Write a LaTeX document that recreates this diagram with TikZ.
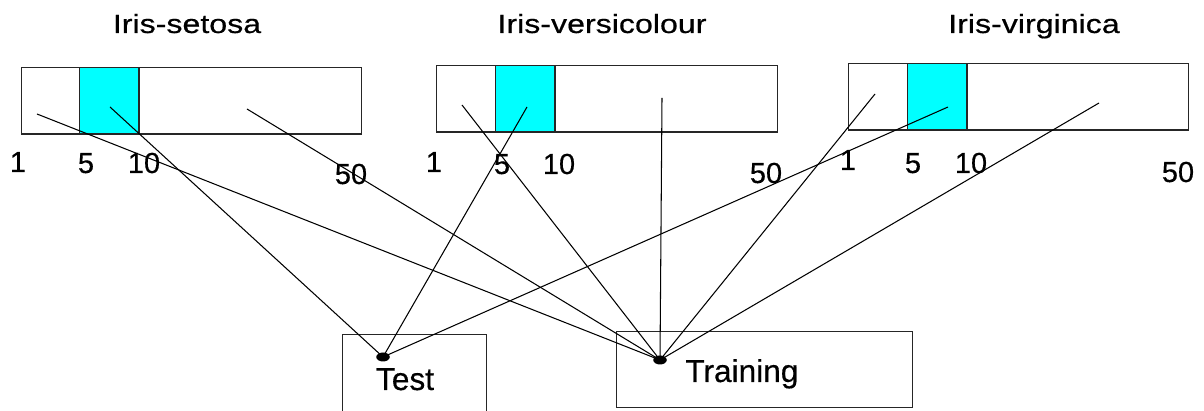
\documentclass[tikz,border=0pt]{standalone}
\usepackage{fontspec}
\setmainfont[FakeBold=0.4]{Liberation Sans}
\newfontfamily\titlefont[FakeStretch=1.22, FakeBold=0.5]{Liberation Sans}
\usepackage{xcolor}
\usepackage{tikz}
\usetikzlibrary{shapes.geometric}
\definecolor{irisaqua}{HTML}{00FFFF}
\tikzset{
  band/.style={draw=black!85, line width=0.8pt, fill=white, anchor=north west, inner sep=0pt, minimum height=1.33cm},
  cell/.style={draw=black!85, line width=0.8pt, fill=irisaqua, anchor=north west, inner sep=0pt, minimum height=1.33cm, minimum width=1.19cm},
  setbox/.style={draw=black!85, line width=0.8pt, anchor=north west, inner sep=0pt},
  title/.style={anchor=base, inner sep=0pt, font=\titlefont\fontsize{15}{17}\selectfont},
  digit/.style={anchor=base, inner sep=0pt, font=\fontsize{16.5}{18}\selectfont},
  setlabel/.style={anchor=base, inner sep=0pt, font=\fontsize{18}{20}\selectfont},
  dot/.style={ellipse, fill=black, inner sep=0pt, minimum width=0.27cm, minimum height=0.18cm},
  link/.style={line width=0.6pt, draw=black}
}
\begin{document}
\begin{tikzpicture}[x=0.02cm, y=-0.02cm]
  \useasboundingbox (0,0) rectangle (1204,411);
  \clip (0,0) rectangle (1204,411);

  % titles
  \node[title] (tsetosa) at (187,33) {Iris-setosa};
  \node[title] (tversi) at (602,33) {Iris-versicolour};
  \node[title] (tvirgi) at (1034,33) {Iris-virginica};

  % bands with the cyan cell
  \node[band, minimum width=6.8cm] (setosa) at (21,67) {};
  \node[cell] (setosa5) at (79,67) {};
  \node[band, minimum width=6.82cm] (versi) at (436,65) {};
  \node[cell] (versi5) at (495,65) {};
  \node[band, minimum width=6.8cm] (virgi) at (848,63) {};
  \node[cell] (virgi5) at (907,63) {};

  % indices under the bands
  \node[digit] (s1) at (18,172) {1};
  \node[digit] (s5) at (86,173) {5};
  \node[digit] (s10) at (144,173) {10};
  \node[digit] (s50) at (351,184) {50};
  \node[digit] (v1) at (434,172) {1};
  \node[digit] (v5) at (502,174) {5};
  \node[digit] (v10) at (559,174) {10};
  \node[digit] (v50) at (766,183) {50};
  \node[digit] (g1) at (848,170) {1};
  \node[digit] (g5) at (913,173) {5};
  \node[digit] (g10) at (971,173) {10};
  \node[digit] (g50) at (1178,182) {50};

  % test and training sets
  \node[setbox, minimum width=2.88cm, minimum height=1.95cm] (testbox) at (342,334) {};
  \node[setbox, minimum width=5.92cm, minimum height=1.52cm] (trainbox) at (616,331) {};
  \node[setlabel] (testlbl) at (405,390) {Test};
  \node[setlabel, anchor=base west] (trainlbl) at (685,382) {Training};

  % sample points
  \coordinate (sa) at (37,114);
  \coordinate (sb) at (110,107);
  \coordinate (sc) at (247,109);
  \coordinate (va) at (462,105);
  \coordinate (vb) at (527,107);
  \coordinate (vc) at (662,98);
  \coordinate (ga) at (875,94);
  \coordinate (gb) at (948,107);
  \coordinate (gc) at (1099,103);

  \node[dot] (test) at (383,357) {};
  \node[dot] (train) at (660,360) {};

  \draw[link] (sb) -- (test.center);
  \draw[link] (vb) -- (test.center);
  \draw[link] (gb) -- (test.center);
  \draw[link] (sa) -- (train.center);
  \draw[link] (sc) -- (train.center);
  \draw[link] (va) -- (train.center);
  \draw[link] (vc) -- (train.center);
  \draw[link] (ga) -- (train.center);
  \draw[link] (gc) -- (train.center);
\end{tikzpicture}
\end{document}
